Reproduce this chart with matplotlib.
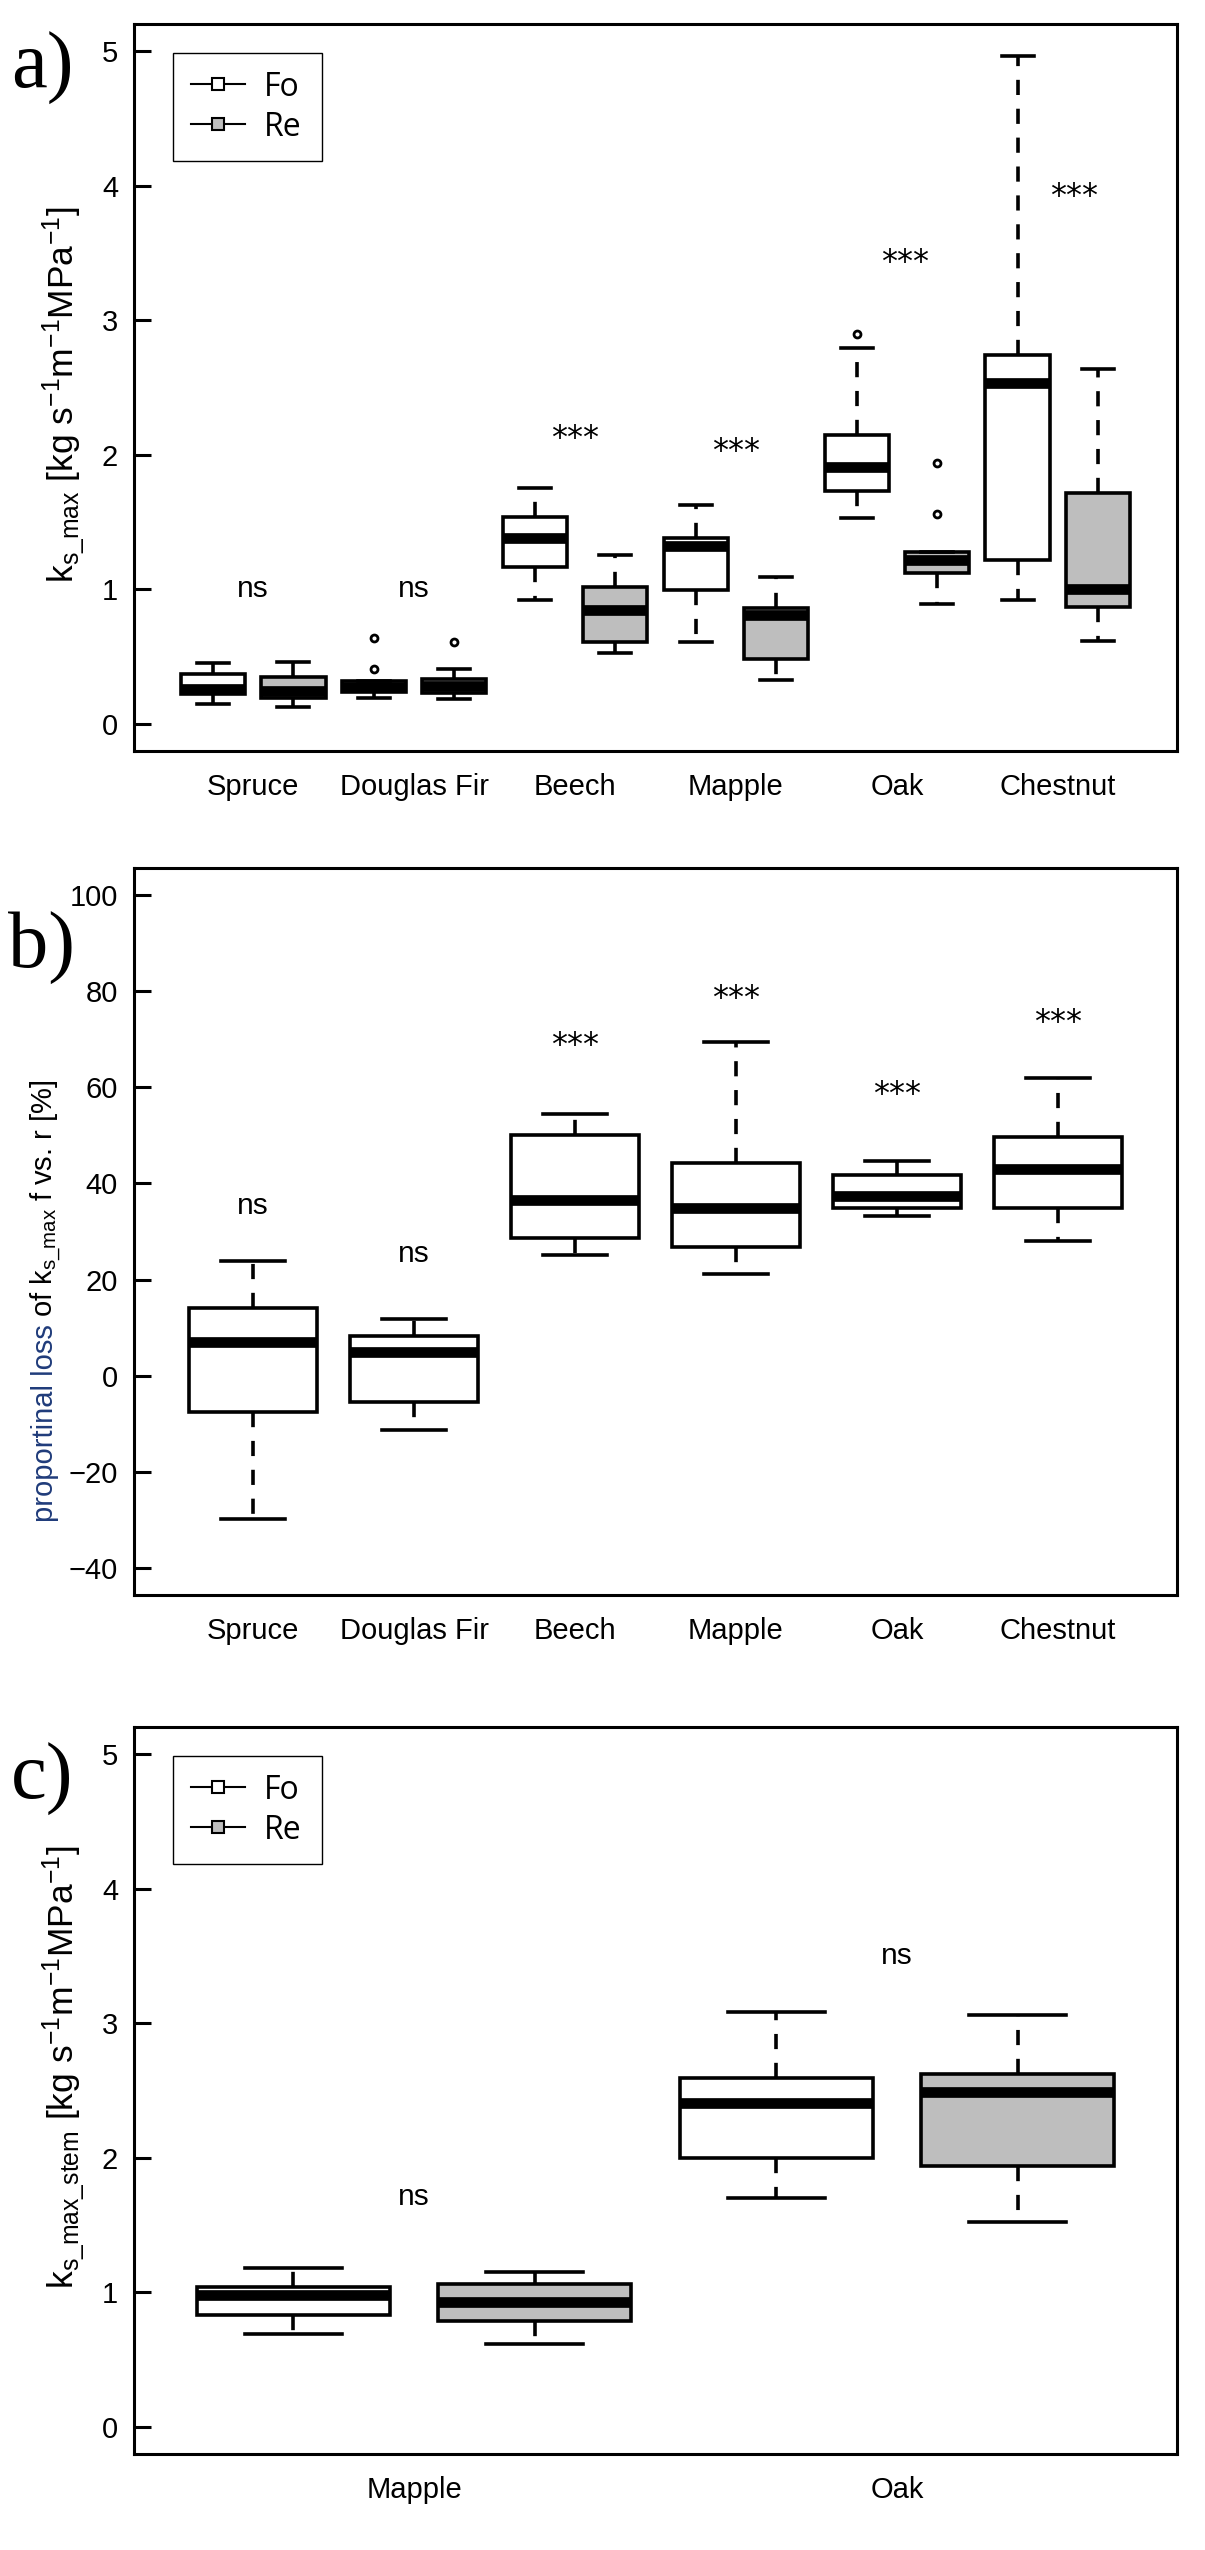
import matplotlib
matplotlib.use("Agg")
import matplotlib.pyplot as plt
from matplotlib.lines import Line2D

plt.rcParams['font.family'] = ['Liberation Sans', 'DejaVu Sans']
plt.rcParams['mathtext.fontset'] = 'custom'
plt.rcParams['mathtext.rm'] = 'Liberation Sans'
plt.rcParams['mathtext.it'] = 'Liberation Sans:italic'
plt.rcParams['mathtext.bf'] = 'Liberation Sans:bold'

W, H = 1205, 2550

# ---------------- data ----------------
species = ['Spruce', 'Douglas Fir', 'Beech', 'Mapple', 'Oak', 'Chestnut']

# panel a: ks_max, boxes ordered Fo, Re per species
a_whislo = [0.15, 0.13, 0.195, 0.185, 0.92, 0.53, 0.61, 0.33, 1.53, 0.89, 0.92, 0.62]
a_q1 = [0.22, 0.195, 0.235, 0.23, 1.165, 0.61, 0.995, 0.48, 1.73, 1.12, 1.22, 0.87]
a_med = [0.26, 0.245, 0.275, 0.28, 1.38, 0.85, 1.32, 0.81, 1.91, 1.22, 2.53, 1.00]
a_q3 = [0.37, 0.35, 0.32, 0.335, 1.54, 1.02, 1.38, 0.865, 2.15, 1.28, 2.74, 1.72]
a_whishi = [0.45, 0.46, 0.32, 0.41, 1.75, 1.256, 1.63, 1.094, 2.79, 1.28, 4.96, 2.64]
a_fliers = [[], [], [0.41, 0.64], [0.61], [], [], [], [], [2.90], [1.56, 1.94], [], []]
a_sig = ['ns', 'ns', '***', '***', '***', '***']
a_sig_x = [1.5, 3.5, 5.5, 7.5, 9.6, 11.7]
a_sig_y = [1.0, 1.0, 2.17, 2.07, 3.48, 3.97]

# panel b: proportional loss [%]
b_whislo = [-29.7, -11.2, 25.2, 21.2, 33.2, 28.1]
b_q1 = [-7.6, -5.5, 28.6, 26.7, 34.9, 34.8]
b_med = [7.1, 5.0, 36.5, 34.9, 37.3, 43.1]
b_q3 = [14.0, 8.2, 50.1, 44.3, 41.7, 49.7]
b_whishi = [23.9, 11.9, 54.5, 69.4, 44.7, 62.0]
b_sig = ['ns', 'ns', '***', '***', '***', '***']
b_sig_y = [35.2, 25.4, 70.0, 79.8, 59.8, 74.9]

# panel c: ks_max_stem, Mapple and Oak
c_species = ['Mapple', 'Oak']
c_whislo = [0.69, 0.62, 1.70, 1.52]
c_q1 = [0.83, 0.79, 2.00, 1.94]
c_med = [0.98, 0.93, 2.41, 2.49]
c_q3 = [1.04, 1.06, 2.59, 2.62]
c_whishi = [1.18, 1.15, 3.08, 3.06]
c_sig = ['ns', 'ns']
c_sig_y = [1.71, 3.50]

groups = ['Fo', 'Re']
fills = {'Fo': 'white', 'Re': '#bebebe'}


def stats(whislo, q1, med, q3, whishi, fliers=None):
    out = []
    for i in range(len(med)):
        out.append(dict(whislo=whislo[i], q1=q1[i], med=med[i], q3=q3[i],
                        whishi=whishi[i],
                        fliers=(fliers[i] if fliers else [])))
    return out


def draw_boxes(ax, st, positions, colors):
    bp = ax.bxp(st, positions=positions, widths=0.8, patch_artist=True,
                showfliers=True,
                boxprops=dict(edgecolor='black', linewidth=2.6),
                medianprops=dict(color='black', linewidth=7.7, solid_capstyle='butt'),
                whiskerprops=dict(color='black', linewidth=2.6, linestyle=(0, (4.2, 3.8))),
                capprops=dict(color='black', linewidth=2.6),
                flierprops=dict(marker='o', markersize=5, markerfacecolor='white',
                                markeredgecolor='black', markeredgewidth=2))
    for patch, col in zip(bp['boxes'], colors):
        patch.set_facecolor(col)
    return bp


def sig_text(ax, x, y, s):
    if s == 'ns':
        ax.text(x, y, s, ha='center', va='center', fontsize=21.5)
    else:
        # asterisks sit high in the glyph box, nudge down a little
        ax.text(x, y - 0.009 * (ax.get_ylim()[1] - ax.get_ylim()[0]), s, ha='center',
                va='center', fontsize=23, family=['DejaVu Sans'])


def style_axes(ax):
    for sp in ax.spines.values():
        sp.set_linewidth(2.2)
    ax.tick_params(axis='y', direction='in', length=12, width=2.2, labelsize=21, pad=11.5)
    ax.tick_params(axis='x', length=0, labelsize=21, pad=16)


def add_legend(ax):
    handles = [Line2D([0], [0], color='black', lw=1.5, marker='s', markersize=9,
                      markerfacecolor=fills[g], markeredgecolor='black',
                      markeredgewidth=1.5) for g in groups]
    # frame spans x 173..322 px, y 53..161 px from the axes top-left
    x0 = (173 - 134) / 1043
    w = (322 - 173) / 1043
    h = (161 - 53) / 727
    y1 = (751 - 53) / 727
    leg = ax.legend(handles, groups, loc='upper left', bbox_to_anchor=(x0, y1 - h, w, h),
                    mode='expand', borderaxespad=0, fancybox=False, edgecolor='black',
                    framealpha=1, prop={'family': 'Open Sans', 'size': 23},
                    handlelength=1.7, handletextpad=0.6, borderpad=0.55,
                    labelspacing=0.22)
    leg.get_frame().set_linewidth(1.0)


def fx(x):
    return x / W


def fy(y):
    return 1 - y / H


fig = plt.figure(figsize=(W / 100, H / 100), dpi=100)
left, width = 134 / W, 1043 / W
ax_a = fig.add_axes([left, fy(751), width, 727 / H])
ax_b = fig.add_axes([left, fy(1595), width, 727 / H])
ax_c = fig.add_axes([left, fy(2454), width, 727 / H])

# ---- panel a ----
pos_a = list(range(1, 13))
draw_boxes(ax_a, stats(a_whislo, a_q1, a_med, a_q3, a_whishi, a_fliers), pos_a,
           [fills[groups[i % 2]] for i in range(12)])
ax_a.set_xlim(0.02, 12.98)
ax_a.set_ylim(-0.2, 5.2)
ax_a.set_yticks(range(6))
ax_a.set_xticks([1.5 + 2 * i for i in range(6)])
ax_a.set_xticklabels(species)
for s, x, y in zip(a_sig, a_sig_x, a_sig_y):
    sig_text(ax_a, x, y, s)
style_axes(ax_a)
add_legend(ax_a)

# ---- panel b ----
pos_b = list(range(1, 7))
draw_boxes(ax_b, stats(b_whislo, b_q1, b_med, b_q3, b_whishi), pos_b, ['white'] * 6)
ax_b.set_xlim(0.26, 6.74)
ax_b.set_ylim(-45.6, 105.6)
ax_b.set_yticks(range(-40, 101, 20))
ax_b.set_xticks(pos_b)
ax_b.set_xticklabels(species)
for s, x, y in zip(b_sig, pos_b, b_sig_y):
    sig_text(ax_b, x, y, s)
style_axes(ax_b)

# ---- panel c ----
pos_c = list(range(1, 5))
draw_boxes(ax_c, stats(c_whislo, c_q1, c_med, c_q3, c_whishi), pos_c,
           [fills[groups[i % 2]] for i in range(4)])
ax_c.set_xlim(0.34, 4.66)
ax_c.set_ylim(-0.2, 5.2)
ax_c.set_yticks(range(6))
ax_c.set_xticks([1.5, 3.5])
ax_c.set_xticklabels(c_species)
for s, x, y in zip(c_sig, [1.5, 3.5], c_sig_y):
    sig_text(ax_c, x, y, s)
style_axes(ax_c)
add_legend(ax_c)

# ---- y labels ----
lab_a = r'$\mathrm{k_{s\_max}}$ [kg s$^{-1}$m$^{-1}$MPa$^{-1}$]'
lab_c = r'$\mathrm{k_{s\_max\_stem}}$ [kg s$^{-1}$m$^{-1}$MPa$^{-1}$]'
fig.text(fx(64), fy(395), lab_a, rotation=90, ha='center', va='center', fontsize=25.5)
fig.text(fx(64), fy(2067), lab_c, rotation=90, ha='center', va='center', fontsize=25.5)

t1 = fig.text(fx(53), fy(1522), 'proportinal loss', rotation=90, rotation_mode='anchor',
              ha='left', va='baseline', fontsize=21, color='#1f3b7a')
fig.canvas.draw()
bb = t1.get_window_extent(fig.canvas.get_renderer())
t2_y = bb.y1 + 7
fig.text(fx(53), t2_y / H, r'of $\mathrm{k_{s\_max}}$ f vs. r [%]', rotation=90,
         rotation_mode='anchor', ha='left', va='baseline', fontsize=21, color='black')

# ---- panel letters ----
for letter, y in [('a)', 68), ('b)', 948), ('c)', 1779)]:
    fig.text(fx(42), fy(y), letter, ha='center', va='center', fontsize=58,
             family=['Liberation Serif', 'DejaVu Serif'])

fig.savefig('out.png', dpi=100)
